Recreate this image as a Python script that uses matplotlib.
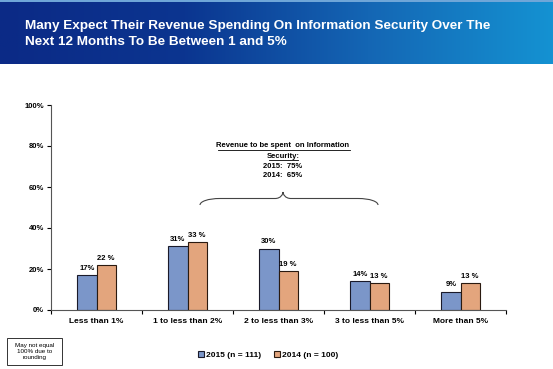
import matplotlib.pyplot as plt
import numpy as np
from matplotlib.colors import LinearSegmentedColormap
from matplotlib.path import Path
from matplotlib.patches import PathPatch, Rectangle

plt.rcParams["font.family"] = ["Liberation Sans", "DejaVu Sans"]

categories = ["Less than 1%", "1 to less than 2%", "2 to less than 3%",
              "3 to less than 5%", "More than 5%"]
vals_2015 = [17, 31, 30, 14, 9]
vals_2014 = [22, 33, 19, 13, 13]
labels_2015 = ["17%", "31%", "30%", "14%", "9%"]
labels_2014 = ["22 %", "33 %", "19 %", "13 %", "13 %"]
yticks = [0, 20, 40, 60, 80, 100]

W, H = 553, 369
fig = plt.figure(figsize=(W / 100, H / 100), dpi=100)
fig.patch.set_facecolor("white")

# header band with gradient
hdr = fig.add_axes([0, 1 - 64 / H, 1, 64 / H])
cmap = LinearSegmentedColormap.from_list("hdr", ["#0b2a86", "#0b3590", "#1466b4", "#1592d2"])
grad = np.linspace(0, 1, 256).reshape(1, -1)
hdr.imshow(grad, aspect="auto", cmap=cmap, extent=[0, 1, 0, 1])
hdr.add_patch(Rectangle((0, 0.97), 1, 0.03, color="#6fa6d8", lw=0))
hdr.set_xlim(0, 1)
hdr.set_ylim(0, 1)
hdr.axis("off")
hdr.text(25 / W, 1 - 34 / 64, "Many Expect Their Revenue Spending On Information Security Over The\n"
         "Next 12 Months To Be Between 1 and 5%",
         color="white", fontsize=9.7, fontweight="bold", va="center", ha="left",
         linespacing=1.5)

ax = fig.add_axes([51 / W, 1 - 310 / H, 455 / W, 205 / H])
x = np.arange(len(categories))
bw = 0.21
blue = "#7b96c9"
orange = "#e3a57d"
ax.bar(x - bw / 2, vals_2015, bw, color=blue, edgecolor="#1a1a2a", linewidth=0.8,
       label="2015 (n = 111)")
ax.bar(x + bw / 2, vals_2014, bw, color=orange, edgecolor="#2a1a10", linewidth=0.8,
       label="2014 (n = 100)")
for i in range(len(categories)):
    ax.text(x[i] - bw / 2, vals_2015[i] + 1.5, labels_2015[i], ha="center", va="bottom",
            fontsize=5.5, fontweight="bold")
    ax.text(x[i] + bw / 2, vals_2014[i] + 1.5, labels_2014[i], ha="center", va="bottom",
            fontsize=5.5, fontweight="bold")

ax.set_xlim(-0.5, len(categories) - 0.5)
ax.set_ylim(0, 100)
ax.set_yticks(yticks)
ax.set_yticklabels([f"{v}%" for v in yticks], fontsize=5.5, fontweight="bold")
ax.set_xticks(x)
ax.set_xticklabels(categories, fontsize=6, fontweight="bold")
ax.tick_params(axis="x", length=0, pad=6)
ax.tick_params(axis="y", length=3, width=0.8, direction="out", pad=2)
ax.set_xticks(np.arange(-0.5, len(categories), 1), minor=True)
ax.tick_params(axis="x", which="minor", length=3, width=0.8, direction="out")
for s in ["top", "right"]:
    ax.spines[s].set_visible(False)
for s in ["left", "bottom"]:
    ax.spines[s].set_color("#555555")
    ax.spines[s].set_linewidth(0.8)

# curly brace over middle groups (figure pixel coords)
def fp(px, py):
    return (px / W, 1 - py / H)

xl, xr, xm = 200, 378, 283
yb, yt = 205, 192
ymid = (yb + yt) / 2
verts = [fp(xl, yb), fp(xl, ymid + 3), fp(xl + 8, ymid), fp(xl + 20, ymid),
         fp(xm - 20, ymid), fp(xm - 20, ymid), fp(xm - 8, ymid),
         fp(xm - 2, ymid), fp(xm, yt + 2), fp(xm, yt),
         fp(xm, yt + 2), fp(xm + 2, ymid), fp(xm + 8, ymid),
         fp(xm + 20, ymid), fp(xm + 20, ymid), fp(xr - 20, ymid),
         fp(xr - 8, ymid), fp(xr, ymid + 3), fp(xr, yb)]
codes = [Path.MOVETO, Path.CURVE4, Path.CURVE4, Path.CURVE4,
         Path.LINETO, Path.LINETO, Path.LINETO,
         Path.CURVE4, Path.CURVE4, Path.CURVE4,
         Path.CURVE4, Path.CURVE4, Path.CURVE4,
         Path.LINETO, Path.LINETO, Path.LINETO,
         Path.CURVE4, Path.CURVE4, Path.CURVE4]
fig.add_artist(PathPatch(Path(verts, codes), transform=fig.transFigure,
                         fill=False, edgecolor="#444444", linewidth=0.8))

fig.text(xm / W, 1 - 146 / H, "Revenue to be spent  on Information", ha="center", va="center",
         fontsize=5.5, fontweight="bold")
fig.text(xm / W, 1 - 156 / H, "Security:", ha="center", va="center",
         fontsize=5.5, fontweight="bold")
fig.text(xm / W, 1 - 166 / H, "2015:  75%", ha="center", va="center",
         fontsize=5.5, fontweight="bold")
fig.text(xm / W, 1 - 176 / H, "2014:  65%", ha="center", va="center",
         fontsize=5.5, fontweight="bold")
# underline first two lines
fig.add_artist(plt.Line2D([218 / W, 350 / W], [1 - 150 / H, 1 - 150 / H],
                          color="black", lw=0.6))
fig.add_artist(plt.Line2D([269 / W, 298 / W], [1 - 160 / H, 1 - 160 / H],
                          color="black", lw=0.6))

# note box
fig.add_artist(Rectangle((7 / W, 1 - 365 / H), 55 / W, 27 / H, transform=fig.transFigure,
                         fill=False, edgecolor="#333333", linewidth=0.7))
fig.text(34.5 / W, 1 - 351.5 / H, "May not equal\n100% due to\nrounding", ha="center",
         va="center", fontsize=4.5, linespacing=1.2)

fig.legend(loc="center", bbox_to_anchor=(268 / W, 1 - 355 / H), ncol=2, frameon=False,
           prop={"weight": "bold", "size": 6}, handlelength=0.7,
           handleheight=0.7, handletextpad=0.3, columnspacing=1.5)

fig.savefig("out.png", dpi=100)
